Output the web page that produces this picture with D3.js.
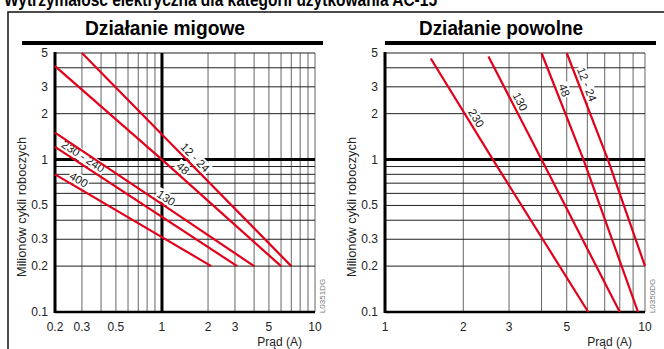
<!DOCTYPE html>
<meta charset="utf-8">
<style>
body { margin: 0; background: #fff; }
svg { display: block; font-family: "Liberation Sans", Arial, sans-serif; }
.vgrid { stroke: #666; stroke-width: 1; }
.hgrid { stroke: #222; stroke-width: 1; }
.curve { fill: none; stroke: #e3001b; stroke-width: 2.2; }
.tick { font-size: 12px; fill: #222; }
.lbl { font-size: 11.5px; fill: #222; }
</style>
<script src="https://d3js.org/d3.v7.min.js"></script>
<body>
<script>
// --- data ---
var pageTitle = "Wytrzymałość elektryczna dla kategorii użytkowania AC-15";
var panelTitles = ["Działanie migowe", "Działanie powolne"];
var yTitle = "Milionów cykli roboczych";
var xTitle = "Prąd (A)";
var codes = ["L0351DG", "L0350DG"];

var yDomain = [0.1, 5];
var yTickLabels = [5, 3, 2, 1, 0.5, 0.3, 0.2, 0.1];

// fast acting (left)
var fastDomain = [0.2, 10];
var fastTickLabels = [0.2, 0.3, 0.5, 1, 2, 3, 5, 10];
var fastLabels = ["12 - 24", "48", "130", "230 - 240", "400"];
var fastCurrent = [[0.3, 1, 7], [0.2, 1, 6], [0.2, 1, 4], [0.2, 3.1], [0.2, 2.1]];
var fastCycles = [[5, 1.46, 0.2], [4.1, 1, 0.2], [1.5, 0.51, 0.2], [1.21, 0.2], [0.8, 0.2]];
var fastLabelAt = [1.52, 1.27, 1.0, 0.287, 0.27];

// slow acting (right)
var slowDomain = [1, 10];
var slowTickLabels = [1, 2, 3, 5, 10];
var slowLabels = ["230", "130", "48", "12 - 24"];
var slowCurrent = [[1.5, 2.6, 6.05], [2.5, 4, 8], [4, 5.8, 9.4], [5, 7.2, 10]];
var slowCycles = [[4.6, 1, 0.1], [4.75, 1, 0.1], [5, 1, 0.1], [5, 1, 0.2]];
var slowLabelAt = [2.12, 3.12, 4.6, 5.62];

(function() {
var W = 664, H = 349;
var svg = d3.select("body").append("svg").attr("width", W).attr("height", H);

// page title, cut off at the top
svg.append("text")
  .attr("x", 4).attr("y", 6)
  .attr("textLength", 433).attr("lengthAdjust", "spacingAndGlyphs")
  .style("font-size", "18px").style("font-weight", "bold")
  .text(pageTitle);

// outer frame (top + left only)
svg.append("path")
  .attr("d", "M8,349 V12 H664")
  .attr("fill", "none").attr("stroke", "#111").attr("stroke-width", 1.5);

var panels = [
  { title: panelTitles[0], tcx: 165, tw: 160, bar: [22, 323], left: 55, dom: fastDomain,
    ticks: fastTickLabels, labels: fastLabels, cur: fastCurrent, cyc: fastCycles,
    at: fastLabelAt, code: codes[0], thickX: 1 },
  { title: panelTitles[1], tcx: 501, tw: 164, bar: [385, 656], left: 385, dom: slowDomain,
    ticks: slowTickLabels, labels: slowLabels, cur: slowCurrent, cyc: slowCycles,
    at: slowLabelAt, code: codes[1], thickX: null }
];

var plotTop = 53, plotBottom = 312, pw = 260;

panels.forEach(function(p) {
  var g = svg.append("g");
  var x = d3.scaleLog().domain(p.dom).range([p.left, p.left + pw]);
  var y = d3.scaleLog().domain(yDomain).range([plotBottom, plotTop]);

  // title + bar
  g.append("text")
    .attr("x", p.tcx).attr("y", 35)
    .attr("text-anchor", "middle")
    .attr("textLength", p.tw).attr("lengthAdjust", "spacingAndGlyphs")
    .style("font-size", "21px").style("font-weight", "bold")
    .text(p.title);
  g.append("rect")
    .attr("x", p.bar[0]).attr("y", 41)
    .attr("width", p.bar[1] - p.bar[0]).attr("height", 4)
    .attr("fill", "#000");

  // grid
  g.selectAll(".vgrid").data(x.ticks()).enter().append("line")
    .attr("class", "vgrid")
    .attr("x1", d => x(d)).attr("x2", d => x(d))
    .attr("y1", plotTop).attr("y2", plotBottom);
  g.selectAll(".hgrid").data(y.ticks()).enter().append("line")
    .attr("class", "hgrid")
    .attr("x1", p.left).attr("x2", p.left + pw)
    .attr("y1", d => y(d)).attr("y2", d => y(d));

  // heavy lines at 1
  g.append("line")
    .attr("x1", p.left).attr("x2", p.left + pw)
    .attr("y1", y(1)).attr("y2", y(1))
    .attr("stroke", "#000").attr("stroke-width", 3);
  if (p.thickX) {
    g.append("line")
      .attr("x1", x(p.thickX)).attr("x2", x(p.thickX))
      .attr("y1", plotTop).attr("y2", plotBottom)
      .attr("stroke", "#000").attr("stroke-width", 3);
  }
  // axes
  g.append("line")
    .attr("x1", p.left).attr("x2", p.left)
    .attr("y1", plotTop - 1).attr("y2", plotBottom + 1)
    .attr("stroke", "#000").attr("stroke-width", 3);
  g.append("line")
    .attr("x1", p.left).attr("x2", p.left + pw)
    .attr("y1", plotBottom).attr("y2", plotBottom)
    .attr("stroke", "#000").attr("stroke-width", 2.5);

  // tick labels
  g.selectAll(".xt").data(p.ticks).enter().append("text")
    .attr("class", "tick")
    .attr("x", d => x(d)).attr("y", 331)
    .attr("text-anchor", "middle")
    .text(d => d);
  g.selectAll(".yt").data(yTickLabels).enter().append("text")
    .attr("class", "tick")
    .attr("x", p.left - 7).attr("y", d => y(d) + 4)
    .attr("text-anchor", "end")
    .text(d => d);

  // axis titles
  g.append("text")
    .attr("class", "tick")
    .attr("x", p.left + 247).attr("y", 346)
    .attr("text-anchor", "end")
    .text(xTitle);
  g.append("text")
    .attr("class", "tick")
    .attr("transform", "translate(" + (p.left - 29) + ",207) rotate(-90)")
    .attr("text-anchor", "middle")
    .attr("textLength", 140).attr("lengthAdjust", "spacingAndGlyphs")
    .style("font-size", "13px")
    .text(yTitle);
  g.append("text")
    .attr("transform", "translate(" + (p.left + 270) + ",296) rotate(-90)")
    .attr("text-anchor", "middle")
    .style("font-size", "8px").attr("fill", "#777")
    .text(p.code);

  // curve labels (white box, rotated along the line)
  p.labels.forEach(function(name, i) {
    var cs = p.cur[i], ys = p.cyc[i], a = p.at[i];
    var k = 0;
    while (k < cs.length - 2 && a > cs[k + 1]) k++;
    var t = (Math.log(a) - Math.log(cs[k])) / (Math.log(cs[k + 1]) - Math.log(cs[k]));
    var v = Math.exp(Math.log(ys[k]) + t * (Math.log(ys[k + 1]) - Math.log(ys[k])));
    var px = x(a), py = y(v);
    var ang = Math.atan2(y(ys[k + 1]) - y(ys[k]), x(cs[k + 1]) - x(cs[k]));
    var off = 7.5;
    var cx = px + off * Math.sin(ang), cy = py - off * Math.cos(ang);
    var lg = g.append("g")
      .attr("transform", "translate(" + cx + "," + cy + ") rotate(" + (ang * 180 / Math.PI) + ")");
    var bg = lg.append("rect").attr("fill", "#fff");
    var tx = lg.append("text").attr("class", "lbl")
      .attr("text-anchor", "middle").attr("y", 4).text(name);
    var bb = tx.node().getBBox();
    bg.attr("x", bb.x - 1).attr("y", bb.y).attr("width", bb.width + 2).attr("height", bb.height);
  });

  // curves
  var line = d3.line().x(d => x(d[0])).y(d => y(d[1]));
  g.selectAll(".curve").data(p.cur.map((c, i) => c.map((v, j) => [v, p.cyc[i][j]])))
    .enter().append("path")
    .attr("class", "curve")
    .attr("d", line);
});
})();
</script>
